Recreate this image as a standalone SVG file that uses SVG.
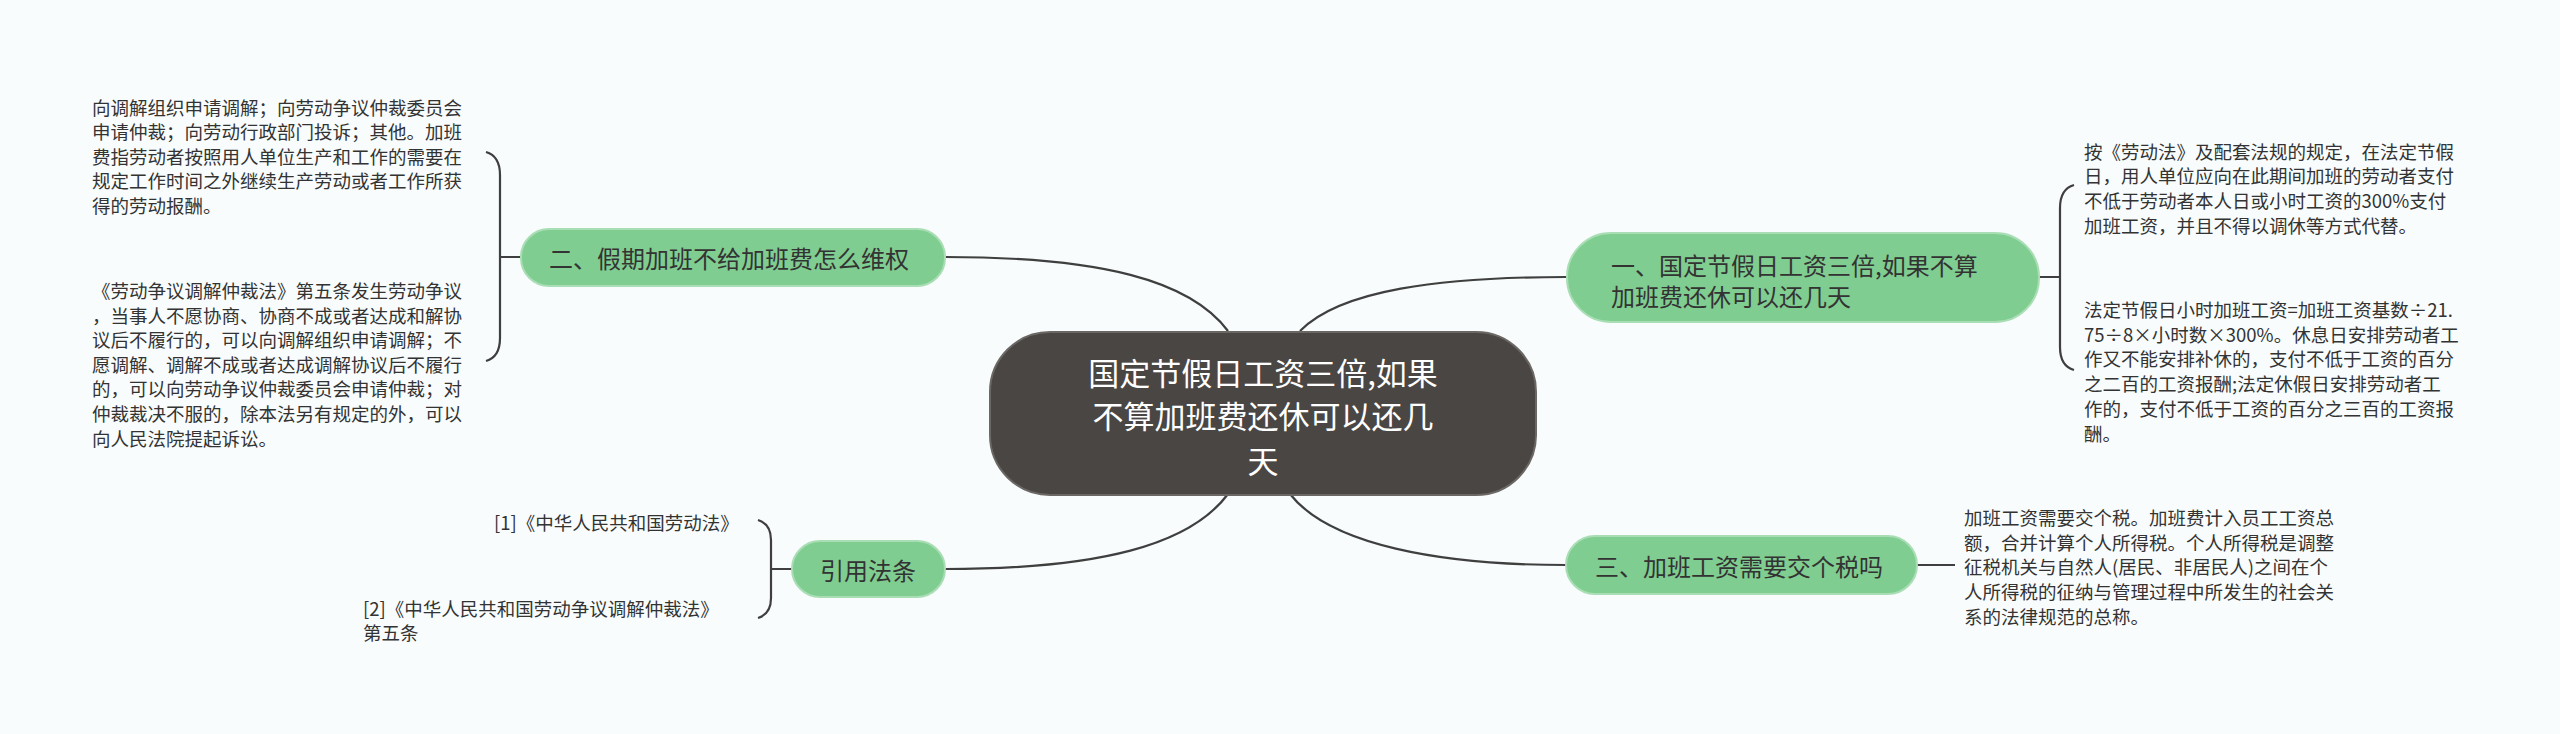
<svg xmlns="http://www.w3.org/2000/svg" width="2560" height="734" viewBox="0 0 2560 734">
<style>
text{font-family:"Noto Sans CJK SC","Liberation Sans",sans-serif;fill:#333;dominant-baseline:central}
.leaf{font-size:18.5px}
.br{font-size:24px}
.ctr{font-size:31px;fill:#fff;text-anchor:middle}
.node{fill:#80cd91;stroke:#a9deb5;stroke-width:2}
.ln{fill:none;stroke:#3f3f3f;stroke-width:2.2}
</style>
<rect width="2560" height="734" fill="#f8fcfc"/>
<g id="connectors">
<path class="ln" d="M1228 331 C1190 280 1100 257 945 257"/>
<path class="ln" d="M1300 331 C1340 290 1440 277 1566 277"/>
<path class="ln" d="M1228 494 C1190 545 1100 569 945 569"/>
<path class="ln" d="M1290 494 C1330 545 1440 565 1566 565"/>
<path class="ln" d="M500 257 H521 M486 152 Q500 156 500 175 V338 Q500 357 486 361"/>
<path class="ln" d="M771 569 H792 M758 520 Q771 524 771 540 V598 Q771 614 758 618"/>
<path class="ln" d="M2039 277 H2060 M2074 185 Q2060 189 2060 208 V347 Q2060 366 2074 370"/>
<path class="ln" d="M1917 565 H1955"/>
</g>
<g id="center">
<rect x="990" y="332" width="546" height="163" rx="60" fill="#4a4644" stroke="#6b6765" stroke-width="2"/>
<text class="ctr" x="1263" y="371">国定节假日工资三倍,如果</text>
<text class="ctr" x="1263" y="414">不算加班费还休可以还几</text>
<text class="ctr" x="1263" y="459">天</text>
</g>
<g id="b1">
<rect class="node" x="1567" y="233" width="472" height="89" rx="44"/>
<text class="br" x="1611" y="264">一、国定节假日工资三倍,如果不算</text>
<text class="br" x="1611" y="295">加班费还休可以还几天</text>
</g>
<g id="b2">
<rect class="node" x="521" y="229" width="424" height="57" rx="28"/>
<text class="br" x="549" y="257">二、假期加班不给加班费怎么维权</text>
</g>
<g id="b3">
<rect class="node" x="792" y="541" width="153" height="56" rx="28"/>
<text class="br" x="820" y="569">引用法条</text>
</g>
<g id="b4">
<rect class="node" x="1566" y="536" width="351" height="58" rx="29"/>
<text class="br" x="1595" y="565">三、加班工资需要交个税吗</text>
</g>
<g id="leaf-b2-1" class="leaf">
<text class="leaf" x="92" y="107">向调解组织申请调解；向劳动争议仲裁委员会</text>
<text class="leaf" x="92" y="131">申请仲裁；向劳动行政部门投诉；其他。加班</text>
<text class="leaf" x="92" y="156">费指劳动者按照用人单位生产和工作的需要在</text>
<text class="leaf" x="92" y="180">规定工作时间之外继续生产劳动或者工作所获</text>
<text class="leaf" x="92" y="205">得的劳动报酬。</text>
</g>
<g id="leaf-b2-2">
<text class="leaf" x="92" y="290">《劳动争议调解仲裁法》第五条发生劳动争议</text>
<text class="leaf" x="92" y="315">，当事人不愿协商、协商不成或者达成和解协</text>
<text class="leaf" x="92" y="339">议后不履行的，可以向调解组织申请调解；不</text>
<text class="leaf" x="92" y="364">愿调解、调解不成或者达成调解协议后不履行</text>
<text class="leaf" x="92" y="388">的，可以向劳动争议仲裁委员会申请仲裁；对</text>
<text class="leaf" x="92" y="413">仲裁裁决不服的，除本法另有规定的外，可以</text>
<text class="leaf" x="92" y="438">向人民法院提起诉讼。</text>
</g>
<g id="leaf-b3-1">
<text class="leaf" x="494" y="522">[1]《中华人民共和国劳动法》</text>
</g>
<g id="leaf-b3-2">
<text class="leaf" x="363" y="608">[2]《中华人民共和国劳动争议调解仲裁法》</text>
<text class="leaf" x="363" y="632">第五条</text>
</g>
<g id="leaf-b1-1">
<text class="leaf" x="2084" y="151">按《劳动法》及配套法规的规定，在法定节假</text>
<text class="leaf" x="2084" y="175">日，用人单位应向在此期间加班的劳动者支付</text>
<text class="leaf" x="2084" y="200">不低于劳动者本人日或小时工资的300%支付</text>
<text class="leaf" x="2084" y="225">加班工资，并且不得以调休等方式代替。</text>
</g>
<g id="leaf-b1-2">
<text class="leaf" x="2084" y="309">法定节假日小时加班工资=加班工资基数÷21.</text>
<text class="leaf" x="2084" y="334">75÷8×小时数×300%。休息日安排劳动者工</text>
<text class="leaf" x="2084" y="358">作又不能安排补休的，支付不低于工资的百分</text>
<text class="leaf" x="2084" y="383">之二百的工资报酬;法定休假日安排劳动者工</text>
<text class="leaf" x="2084" y="408">作的，支付不低于工资的百分之三百的工资报</text>
<text class="leaf" x="2084" y="433">酬。</text>
</g>
<g id="leaf-b4">
<text class="leaf" x="1964" y="517">加班工资需要交个税。加班费计入员工工资总</text>
<text class="leaf" x="1964" y="542">额，合并计算个人所得税。个人所得税是调整</text>
<text class="leaf" x="1964" y="566">征税机关与自然人(居民、非居民人)之间在个</text>
<text class="leaf" x="1964" y="591">人所得税的征纳与管理过程中所发生的社会关</text>
<text class="leaf" x="1964" y="616">系的法律规范的总称。</text>
</g>
</svg>
